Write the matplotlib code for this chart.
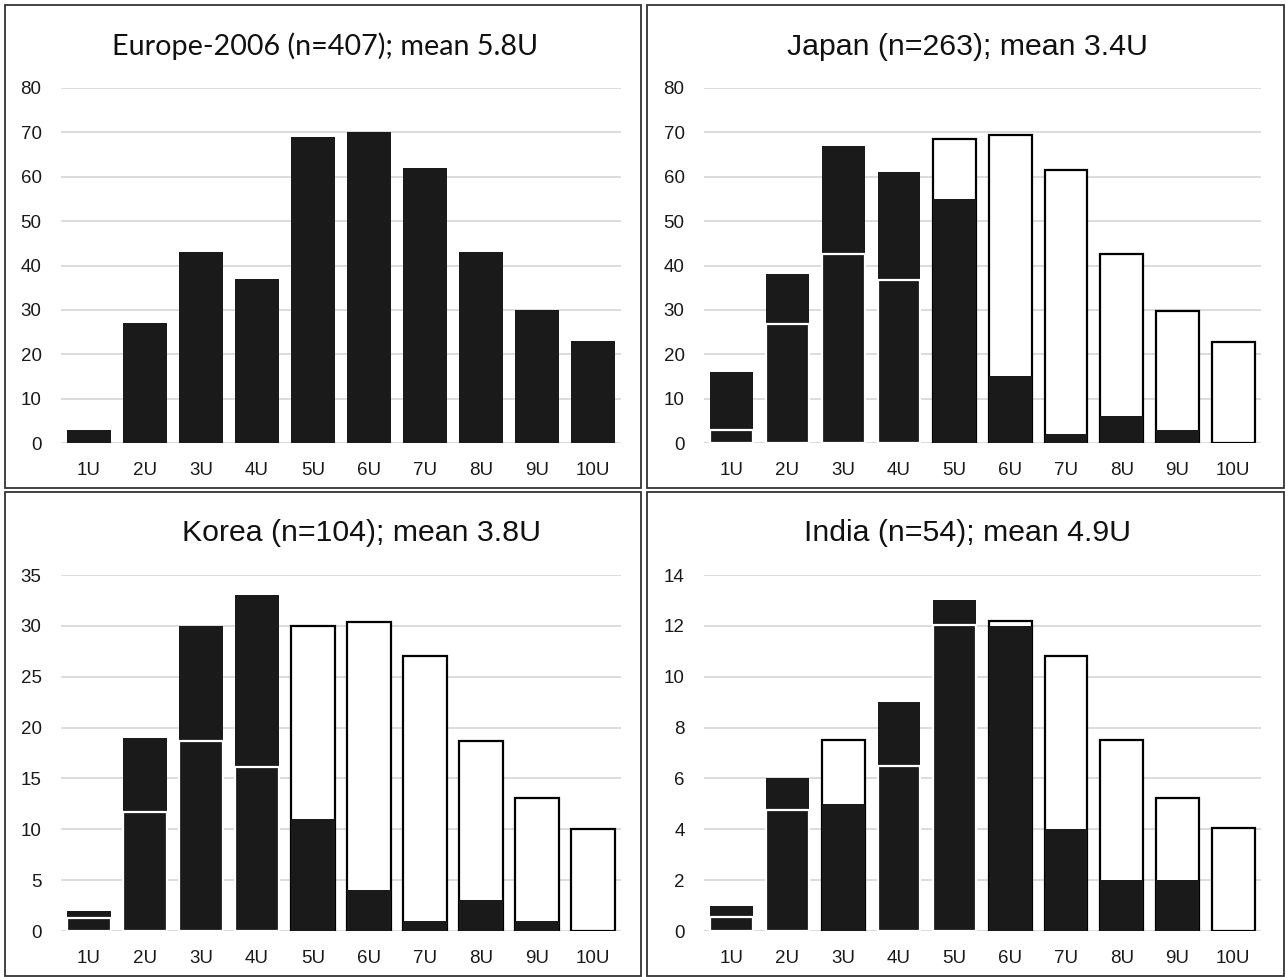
import numpy as np
import matplotlib
matplotlib.use("Agg")
import matplotlib.pyplot as plt
from matplotlib.patches import Rectangle

categorias = ["1U", "2U", "3U", "4U", "5U", "6U", "7U", "8U", "9U", "10U"]

europa = [3, 27, 43, 37, 69, 70, 62, 43, 30, 23]

japon = [16, 38, 67, 61, 55, 15, 2, 6, 3, 0]
japon_ref = [3, 26.8, 42.7, 36.7, 68.5, 69.5, 61.5, 42.7, 29.8, 22.8]

corea = [2, 19, 30, 33, 11, 4, 1, 3, 1, 0]
corea_ref = [1.3, 11.7, 18.7, 16.1, 30.0, 30.4, 27.0, 18.7, 13.1, 10.0]

india = [1, 6, 5, 9, 13, 12, 4, 2, 2, 0]
india_ref = [0.55, 4.75, 7.5, 6.5, 12.05, 12.2, 10.8, 7.5, 5.25, 4.05]

W, H = 1286, 977
NEGRO = "#1a1a1a"
ANCHO = 0.77

plt.rcParams["font.family"] = ["Liberation Sans", "DejaVu Sans"]

fig = plt.figure(figsize=(W / 100, H / 100), dpi=100)


def caja(x0, y0, x1, y1):
    fig.add_artist(Rectangle((x0 / W, 1 - y1 / H), (x1 - x0) / W, (y1 - y0) / H,
                             transform=fig.transFigure, fill=False,
                             edgecolor="#333333", linewidth=1.3))


def panel(px, py, ymax, paso, obs, ref, titulo, tx, ty, fuente, tam):
    ax = fig.add_axes([px[0] / W, 1 - py[1] / H, (px[1] - px[0]) / W, (py[1] - py[0]) / H])
    x = np.arange(len(categorias))
    obs = np.array(obs, dtype=float)
    if ref is None:
        ax.bar(x, obs, width=ANCHO, color=NEGRO, zorder=3)
    else:
        ref = np.array(ref, dtype=float)
        m = ref > obs
        # referencia mayor: caja blanca detrás, dato negro delante
        ax.bar(x[m], ref[m], width=ANCHO, facecolor="white", edgecolor="black",
               linewidth=1.6, zorder=2)
        ax.bar(x[m], obs[m], width=ANCHO, color=NEGRO, zorder=3)
        # dato mayor: barra negra detrás, referencia con borde blanco delante
        ax.bar(x[~m], obs[~m], width=ANCHO, color=NEGRO, zorder=2)
        ax.bar(x[~m], ref[~m], width=ANCHO, facecolor=NEGRO, edgecolor="white",
               linewidth=1.6, zorder=3)
    ax.set_xlim(-0.5, len(categorias) - 0.5)
    ax.set_ylim(0, ymax)
    ax.set_yticks(np.arange(0, ymax + 0.01, paso))
    ax.set_xticks(x)
    ax.set_xticklabels(categorias)
    ax.yaxis.grid(True, color="#d9d9d9", linewidth=1.3, zorder=0)
    ax.set_axisbelow(True)
    for s in ax.spines.values():
        s.set_visible(False)
    ax.tick_params(axis="both", length=0, labelsize=13.5, colors="#1a1a1a")
    ax.tick_params(axis="x", pad=13.5)
    ax.tick_params(axis="y", pad=14)
    fig.text(tx / W, 1 - ty / H, titulo, ha="center", va="baseline",
             fontsize=tam, family=fuente, color="#111111")
    return ax


caja(5, 5, 641, 488)
caja(647, 5, 1284, 488)
caja(5, 492, 641, 976)
caja(647, 492, 1284, 976)

panel((61, 621), (88, 443), 80, 10, europa, None,
      "Europe-2006 (n=407); mean 5.8U", 325, 55, ["Lato", "DejaVu Sans"], 20.7)
panel((704, 1261), (88, 443), 80, 10, japon, japon_ref,
      "Japan (n=263); mean 3.4U", 967, 55, ["Liberation Sans", "DejaVu Sans"], 21.8)
panel((61, 621), (575, 931), 35, 5, corea, corea_ref,
      "Korea (n=104); mean 3.8U", 362, 541, ["Liberation Sans", "DejaVu Sans"], 21.8)
panel((704, 1261), (575, 931), 14, 2, india, india_ref,
      "India (n=54); mean 4.9U", 967, 541, ["Liberation Sans", "DejaVu Sans"], 21.8)

plt.savefig("out.png", dpi=100)
